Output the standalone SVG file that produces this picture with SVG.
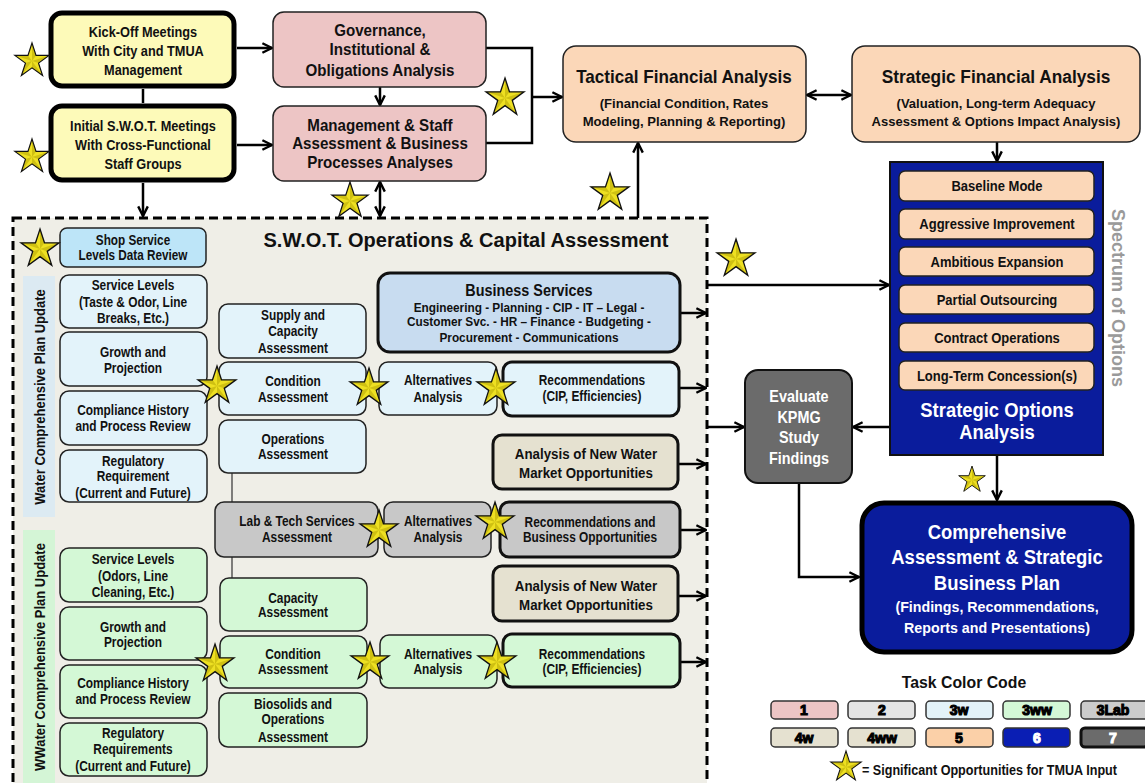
<svg xmlns="http://www.w3.org/2000/svg" xmlns:xlink="http://www.w3.org/1999/xlink" width="1145" height="783" viewBox="0 0 1145 783">
<style>
text{font-family:'Liberation Sans',Arial,sans-serif;font-weight:bold;text-anchor:middle;dominant-baseline:central;fill:#111}
.w{fill:#fff}
.s13{font-size:13px}.s14{font-size:14px}.s15{font-size:15px}.s16{font-size:16px}.s17{font-size:17px}.s18{font-size:18px}.s20{font-size:20px}
.thick{stroke:#000;stroke-width:5}
.thin{stroke:#222;stroke-width:1.5}
.med{stroke:#111;stroke-width:3}
.yel{fill:#FDFAB9}.pink{fill:#EDC5C5}.peach{fill:#FBD7B8}.lb{fill:#E3F3FA}.shop{fill:#BDE5F8}.bs{fill:#C8DCF0}.gr{fill:#D4F8D6}.lab{fill:#C8C8C8}.bei{fill:#E5E1D0}.blue{fill:#0A1C9C}.dg{fill:#6B6B6B}
.con{fill:none;stroke:#000;stroke-width:2.5}
.leg{font-size:14px;fill:#000;stroke:#000;stroke-width:1.1}
.legw{fill:#fff;stroke:#fff}
.sw{stroke:#333;stroke-width:1.5}
</style>
<defs>
<marker id="ah" viewBox="0 0 10 10" refX="9" refY="5" markerWidth="12" markerHeight="12" markerUnits="userSpaceOnUse" orient="auto-start-reverse">
<path d="M1,1 L9,5 L1,9" fill="none" stroke="#000" stroke-width="2"/>
</marker>
<g id="star">
<path d="M0,-20 L4.49,-6.18 L19.02,-6.18 L7.27,2.36 L11.76,16.18 L0,7.64 L-11.76,16.18 L-7.27,2.36 L-19.02,-6.18 L-4.49,-6.18 Z" fill="#EEE022"/>
<path d="M0,0 L0,-20 L4.49,-6.18Z M0,0 L19.02,-6.18 L7.27,2.36Z M0,0 L11.76,16.18 L0,7.64Z M0,0 L-11.76,16.18 L-7.27,2.36Z M0,0 L-19.02,-6.18 L-4.49,-6.18Z" fill="#A89A00" opacity="0.45"/>
<path d="M0,-20 L4.49,-6.18 L19.02,-6.18 L7.27,2.36 L11.76,16.18 L0,7.64 L-11.76,16.18 L-7.27,2.36 L-19.02,-6.18 L-4.49,-6.18 Z" fill="none" stroke="#111" stroke-width="1.3"/>
</g>
</defs>

<!-- S.W.O.T. dashed container -->
<g id="swot">
<rect x="13" y="218" width="694" height="575" fill="#EFEEE7" stroke="#000" stroke-width="3" stroke-dasharray="9,5"/>
<text x="466" y="240" class="s20">S.W.O.T. Operations &amp; Capital Assessment</text>
</g>

<g id="band-water">
<rect x="23" y="276" width="32" height="241" fill="#DCEAF2"/>
<text class="s14" transform="translate(40,397) rotate(-90) scale(0.93,1)">Water Comprehensive Plan Update</text>
</g>
<g id="band-wwater">
<rect x="23" y="530" width="32" height="260" fill="#D4F5D6"/>
<text class="s14" transform="translate(40,657) rotate(-90) scale(0.93,1)">WWater Comprehensive Plan Update</text>
</g>

<!-- connectors -->
<g id="connectors">
<path class="con" d="M237,48 H272" marker-end="url(#ah)"/>
<path class="con" d="M237,145 H272" marker-end="url(#ah)"/>
<path class="con" d="M143,89 V103"/>
<path class="con" d="M143,183 V216" marker-end="url(#ah)"/>
<path class="con" d="M380,87 V105" marker-end="url(#ah)"/>
<path class="con" d="M380,182 V216" marker-start="url(#ah)" marker-end="url(#ah)"/>
<path class="con" d="M486,48 H532 V143 H486"/>
<path class="con" d="M532,97 H562" marker-end="url(#ah)"/>
<path class="con" d="M807,95 H851" marker-start="url(#ah)" marker-end="url(#ah)"/>
<path class="con" d="M638,218 V143" marker-end="url(#ah)"/>
<path class="con" d="M997,142 V161" marker-end="url(#ah)"/>
<path class="con" d="M707,285 H889" marker-end="url(#ah)"/>
<path class="con" d="M707,427 H744" marker-end="url(#ah)"/>
<path class="con" d="M890,427 H853" marker-end="url(#ah)"/>
<path class="con" d="M799,483 V577 H859" marker-end="url(#ah)"/>
<path class="con" d="M997,455 V500" marker-end="url(#ah)"/>
<path class="con" d="M680,313 H706" marker-end="url(#ah)"/>
<path class="con" d="M679,388 H706" marker-end="url(#ah)"/>
<path class="con" d="M678,464 H706" marker-end="url(#ah)"/>
<path class="con" d="M680,530 H706" marker-end="url(#ah)"/>
<path class="con" d="M678,596 H706" marker-end="url(#ah)"/>
<path class="con" d="M680,662 H706" marker-end="url(#ah)"/>
<path fill="none" stroke="#333" stroke-width="1.2" d="M232,473 V502 M232,557 V578"/>
</g>

<!-- top nodes -->
<g id="kickoff">
<rect x="51" y="13" width="183" height="73" rx="11" class="yel thick"/>
<g transform="matrix(0.85,0,0,1,21.45,0)">
<text x="143" y="32" class="s15">Kick-Off Meetings</text>
<text x="143" y="51" class="s15">With City and TMUA</text>
<text x="143" y="70" class="s15">Management</text>
</g>
</g>
<g id="initial-swot">
<rect x="51" y="106" width="183" height="74" rx="11" class="yel thick"/>
<g transform="matrix(0.85,0,0,1,21.45,0)">
<text x="143" y="126" class="s15">Initial S.W.O.T. Meetings</text>
<text x="143" y="145" class="s15">With Cross-Functional</text>
<text x="143" y="164" class="s15">Staff Groups</text>
</g>
</g>
<g id="governance">
<rect x="273" y="12" width="213" height="75" rx="11" class="pink thin"/>
<g transform="matrix(0.89,0,0,1,41.8,0)">
<text x="380" y="30" class="s17">Governance,</text>
<text x="380" y="49" class="s17">Institutional &amp;</text>
<text x="380" y="70" class="s17">Obligations Analysis</text>
</g>
</g>
<g id="management">
<rect x="273" y="106" width="213" height="75" rx="11" class="pink thin"/>
<g transform="matrix(0.89,0,0,1,41.8,0)">
<text x="380" y="125" class="s17">Management &amp; Staff</text>
<text x="380" y="143" class="s17">Assessment &amp; Business</text>
<text x="380" y="162" class="s17">Processes Analyses</text>
</g>
</g>
<g id="tactical">
<rect x="563" y="46" width="243" height="96" rx="13" class="peach thin"/>
<text x="684" y="77" class="s18" transform="matrix(0.95,0,0,1,34.2,0)">Tactical Financial Analysis</text>
<text x="684" y="103" style="font-size:13.5px" transform="matrix(0.97,0,0,1,20.52,0)">(Financial Condition, Rates</text>
<text x="684" y="121" style="font-size:13.5px" transform="matrix(0.97,0,0,1,20.52,0)">Modeling, Planning &amp; Reporting)</text>
</g>
<g id="strategic-financial">
<rect x="852" y="46" width="288" height="96" rx="13" class="peach thin"/>
<text x="996" y="77" class="s18" transform="matrix(0.96,0,0,1,39.84,0)">Strategic Financial Analysis</text>
<text x="996" y="103" class="s13">(Valuation, Long-term Adequacy</text>
<text x="996" y="121" class="s13">Assessment &amp; Options Impact Analysis)</text>
</g>

<!-- strategic options -->
<g id="strategic-options">
<rect x="890" y="162" width="213" height="293" class="blue" stroke="#111" stroke-width="2"/>
<rect x="899" y="171" width="195" height="30" rx="6" class="peach thin"/>
<rect x="899" y="209" width="195" height="30" rx="6" class="peach thin"/>
<rect x="899" y="247" width="195" height="29" rx="6" class="peach thin"/>
<rect x="899" y="285" width="195" height="29" rx="6" class="peach thin"/>
<rect x="899" y="323" width="195" height="29" rx="6" class="peach thin"/>
<rect x="899" y="361" width="195" height="29" rx="6" class="peach thin"/>
<g transform="matrix(0.93,0,0,1,69.79,0)">
<text x="997" y="186" class="s14">Baseline Mode</text>
<text x="997" y="224" class="s14">Aggressive Improvement</text>
<text x="997" y="262" class="s14">Ambitious Expansion</text>
<text x="997" y="300" class="s14">Partial Outsourcing</text>
<text x="997" y="338" class="s14">Contract Operations</text>
<text x="997" y="376" class="s14">Long-Term Concession(s)</text>
</g>
<g transform="matrix(0.92,0,0,1,79.76,0)">
<text x="997" y="410" class="s20 w">Strategic Options</text>
<text x="997" y="432" class="s20 w">Analysis</text>
</g>
</g>
<g id="spectrum-label">
<text class="s18" style="fill:#9A9A9A" transform="translate(1118,298) rotate(90)">Spectrum of Options</text>
</g>
<g id="evaluate-kpmg">
<rect x="745" y="370" width="107" height="113" rx="13" class="dg" stroke="#111" stroke-width="2"/>
<g transform="matrix(0.9,0,0,1,79.9,0)">
<text x="799" y="396" class="s16 w">Evaluate</text>
<text x="799" y="417" class="s16 w">KPMG</text>
<text x="799" y="437" class="s16 w">Study</text>
<text x="799" y="458" class="s16 w">Findings</text>
</g>
</g>
<g id="comprehensive">
<rect x="862" y="503" width="270" height="149" rx="22" class="blue thick"/>
<g transform="matrix(0.88,0,0,1,119.64,0)">
<text x="997" y="532" style="font-size:21px" class="w">Comprehensive</text>
<text x="997" y="557" style="font-size:21px" class="w">Assessment &amp; Strategic</text>
<text x="997" y="583" style="font-size:21px" class="w">Business Plan</text>
</g>
<g transform="matrix(0.95,0,0,1,49.85,0)">
<text x="997" y="607" class="s15 w">(Findings, Recommendations,</text>
<text x="997" y="628" class="s15 w">Reports and Presentations)</text>
</g>
</g>

<!-- water column -->
<g id="shop-service">
<rect x="60" y="228" width="146" height="39" rx="7" class="shop thin"/>
<g transform="matrix(0.84,0,0,1,21.28,0)">
<text x="133" y="240" class="s14">Shop Service</text>
<text x="133" y="255" class="s14">Levels Data Review</text>
</g>
</g>
<g id="w-service-levels">
<rect x="60" y="275" width="147" height="53" rx="9" class="lb thin"/>
<g transform="matrix(0.85,0,0,1,19.95,0)">
<text x="133" y="285" class="s14">Service Levels</text>
<text x="133" y="302" class="s14">(Taste &amp; Odor, Line</text>
<text x="133" y="318" class="s14">Breaks,  Etc.)</text>
</g>
</g>
<g id="w-growth">
<rect x="60" y="332" width="147" height="54" rx="9" class="lb thin"/>
<g transform="matrix(0.85,0,0,1,19.95,0)">
<text x="133" y="352" class="s14">Growth and</text>
<text x="133" y="368" class="s14">Projection</text>
</g>
</g>
<g id="w-compliance">
<rect x="60" y="391" width="147" height="54" rx="9" class="lb thin"/>
<g transform="matrix(0.85,0,0,1,19.95,0)">
<text x="133" y="410" class="s14">Compliance History</text>
<text x="133" y="426" class="s14">and Process Review</text>
</g>
</g>
<g id="w-regulatory">
<rect x="60" y="450" width="147" height="52" rx="9" class="lb thin"/>
<g transform="matrix(0.85,0,0,1,19.95,0)">
<text x="133" y="461" class="s14">Regulatory</text>
<text x="133" y="476" class="s14">Requirement</text>
<text x="133" y="493" class="s14">(Current and Future)</text>
</g>
</g>
<g id="w-supply">
<rect x="219" y="304" width="147" height="54" rx="9" class="lb thin"/>
<g transform="matrix(0.85,0,0,1,43.95,0)">
<text x="293" y="315" class="s14">Supply and</text>
<text x="293" y="331" class="s14">Capacity</text>
<text x="293" y="348" class="s14">Assessment</text>
</g>
</g>
<g id="w-condition">
<rect x="219" y="362" width="147" height="53" rx="9" class="lb thin"/>
<g transform="matrix(0.85,0,0,1,43.95,0)">
<text x="293" y="381" class="s14">Condition</text>
<text x="293" y="397" class="s14">Assessment</text>
</g>
</g>
<g id="w-operations">
<rect x="219" y="420" width="147" height="53" rx="9" class="lb thin"/>
<g transform="matrix(0.85,0,0,1,43.95,0)">
<text x="293" y="439" class="s14">Operations</text>
<text x="293" y="454" class="s14">Assessment</text>
</g>
</g>
<g id="w-alternatives">
<rect x="379" y="362" width="118" height="53" rx="9" class="lb thin"/>
<g transform="matrix(0.85,0,0,1,65.7,0)">
<text x="438" y="380" class="s14">Alternatives</text>
<text x="438" y="397" class="s14">Analysis</text>
</g>
</g>
<g id="w-recommendations">
<rect x="503" y="362" width="176" height="54" rx="9" class="lb med"/>
<g transform="matrix(0.85,0,0,1,88.8,0)">
<text x="592" y="380" class="s14">Recommendations</text>
<text x="592" y="396" class="s14">(CIP, Efficiencies)</text>
</g>
</g>
<g id="business-services">
<rect x="378" y="273" width="302" height="79" rx="12" class="bs med"/>
<text x="529" y="290" class="s16" transform="matrix(0.9,0,0,1,52.9,0)">Business Services</text>
<g transform="matrix(0.91,0,0,1,47.61,0)">
<text x="529" y="308" class="s13">Engineering - Planning - CIP - IT – Legal -</text>
<text x="529" y="322" class="s13">Customer Svc. - HR – Finance - Budgeting -</text>
<text x="529" y="338" class="s13">Procurement  -  Communications</text>
</g>
</g>
<g id="new-water-1">
<rect x="493" y="435" width="185" height="54" rx="9" class="bei med"/>
<g transform="matrix(0.86,0,0,1,82.04,0)">
<text x="586" y="454" style="font-size:15.5px">Analysis of New Water</text>
<text x="586" y="473" style="font-size:15.5px">Market Opportunities</text>
</g>
</g>

<!-- lab -->
<g id="lab-assessment">
<rect x="215" y="502" width="163" height="55" rx="9" class="lab thin"/>
<g transform="matrix(0.85,0,0,1,44.55,0)">
<text x="297" y="521" class="s14">Lab &amp; Tech Services</text>
<text x="297" y="537" class="s14">Assessment</text>
</g>
</g>
<g id="lab-alternatives">
<rect x="384" y="502" width="107" height="55" rx="9" class="lab thin"/>
<g transform="matrix(0.85,0,0,1,65.7,0)">
<text x="438" y="521" class="s14">Alternatives</text>
<text x="438" y="537" class="s14">Analysis</text>
</g>
</g>
<g id="lab-recommendations">
<rect x="500" y="502" width="180" height="55" rx="9" class="lab med"/>
<g transform="matrix(0.85,0,0,1,88.5,0)">
<text x="590" y="522" class="s14">Recommendations and</text>
<text x="590" y="537" class="s14">Business Opportunities</text>
</g>
</g>
<g id="new-water-2">
<rect x="493" y="566" width="185" height="55" rx="9" class="bei med"/>
<g transform="matrix(0.86,0,0,1,82.04,0)">
<text x="586" y="586" style="font-size:15.5px">Analysis of New Water</text>
<text x="586" y="605" style="font-size:15.5px">Market Opportunities</text>
</g>
</g>

<!-- wastewater column -->
<g id="ww-service-levels">
<rect x="60" y="548" width="147" height="54" rx="9" class="gr thin"/>
<g transform="matrix(0.85,0,0,1,19.95,0)">
<text x="133" y="559" class="s14">Service Levels</text>
<text x="133" y="576" class="s14">(Odors, Line</text>
<text x="133" y="592" class="s14">Cleaning,  Etc.)</text>
</g>
</g>
<g id="ww-growth">
<rect x="60" y="607" width="147" height="53" rx="9" class="gr thin"/>
<g transform="matrix(0.85,0,0,1,19.95,0)">
<text x="133" y="627" class="s14">Growth and</text>
<text x="133" y="642" class="s14">Projection</text>
</g>
</g>
<g id="ww-compliance">
<rect x="60" y="665" width="147" height="53" rx="9" class="gr thin"/>
<g transform="matrix(0.85,0,0,1,19.95,0)">
<text x="133" y="683" class="s14">Compliance History</text>
<text x="133" y="699" class="s14">and Process Review</text>
</g>
</g>
<g id="ww-regulatory">
<rect x="60" y="723" width="147" height="53" rx="9" class="gr thin"/>
<g transform="matrix(0.85,0,0,1,19.95,0)">
<text x="133" y="733" class="s14">Regulatory</text>
<text x="133" y="749" class="s14">Requirements</text>
<text x="133" y="766" class="s14">(Current and Future)</text>
</g>
</g>
<g id="ww-capacity">
<rect x="220" y="578" width="147" height="53" rx="9" class="gr thin"/>
<g transform="matrix(0.85,0,0,1,43.95,0)">
<text x="293" y="598" class="s14">Capacity</text>
<text x="293" y="612" class="s14">Assessment</text>
</g>
</g>
<g id="ww-condition">
<rect x="220" y="636" width="147" height="52" rx="9" class="gr thin"/>
<g transform="matrix(0.85,0,0,1,43.95,0)">
<text x="293" y="654" class="s14">Condition</text>
<text x="293" y="669" class="s14">Assessment</text>
</g>
</g>
<g id="ww-biosolids">
<rect x="219" y="693" width="148" height="54" rx="9" class="gr thin"/>
<g transform="matrix(0.85,0,0,1,43.95,0)">
<text x="293" y="704" class="s14">Biosolids and</text>
<text x="293" y="719" class="s14">Operations</text>
<text x="293" y="737" class="s14">Assessment</text>
</g>
</g>
<g id="ww-alternatives">
<rect x="380" y="635" width="117" height="53" rx="9" class="gr thin"/>
<g transform="matrix(0.85,0,0,1,65.7,0)">
<text x="438" y="654" class="s14">Alternatives</text>
<text x="438" y="669" class="s14">Analysis</text>
</g>
</g>
<g id="ww-recommendations">
<rect x="503" y="634" width="177" height="53" rx="9" class="gr med"/>
<g transform="matrix(0.85,0,0,1,88.8,0)">
<text x="592" y="654" class="s14">Recommendations</text>
<text x="592" y="669" class="s14">(CIP, Efficiencies)</text>
</g>
</g>

<!-- legend -->
<g id="legend">
<text x="964" y="682" class="s17" transform="matrix(0.93,0,0,1,67.48,0)">Task Color Code</text>
<rect x="771" y="701" width="67" height="18" rx="4" fill="#EDC5C5" class="sw"/>
<rect x="848" y="701" width="67" height="18" rx="4" fill="#E4E4E4" class="sw"/>
<rect x="926" y="701" width="67" height="18" rx="4" fill="#E3F2F8" class="sw"/>
<rect x="1003" y="701" width="67" height="18" rx="4" fill="#D4F8D6" class="sw"/>
<rect x="1081" y="701" width="67" height="18" rx="4" fill="#CCCCCC" class="sw"/>
<rect x="771" y="728" width="67" height="19" rx="4" fill="#E5E1D0" class="sw"/>
<rect x="848" y="728" width="67" height="19" rx="4" fill="#E5E1D0" class="sw"/>
<rect x="926" y="728" width="67" height="19" rx="4" fill="#FBD0A8" class="sw"/>
<rect x="1003" y="728" width="67" height="19" rx="4" fill="#0A1EB4" class="sw"/>
<rect x="1081" y="728" width="67" height="19" rx="4" fill="#6B6B6B" stroke="#111" stroke-width="3"/>
<text x="804" y="710" class="leg">1</text>
<text x="882" y="710" class="leg">2</text>
<text x="959" y="710" class="leg">3w</text>
<text x="1037" y="710" class="leg">3ww</text>
<text x="1113" y="710" class="leg">3Lab</text>
<text x="804" y="738" class="leg">4w</text>
<text x="882" y="738" class="leg">4ww</text>
<text x="959" y="738" class="leg">5</text>
<text x="1037" y="738" class="leg legw">6</text>
<text x="1113" y="738" class="leg legw">7</text>
<use xlink:href="#star" href="#star" transform="translate(846,767) scale(0.8)"/>
<text x="862" y="770" class="s14" style="text-anchor:start" transform="matrix(0.9,0,0,1,86.2,0)">= Significant Opportunities for TMUA Input</text>
</g>

<!-- stars -->
<g id="stars">
<use href="#star" xlink:href="#star" transform="translate(32,61) scale(0.9)"/>
<use href="#star" xlink:href="#star" transform="translate(32,157) scale(0.9)"/>
<use href="#star" xlink:href="#star" transform="translate(505,98)"/>
<use href="#star" xlink:href="#star" transform="translate(350,201) scale(0.95)"/>
<use href="#star" xlink:href="#star" transform="translate(610,193)"/>
<use href="#star" xlink:href="#star" transform="translate(736,259)"/>
<use href="#star" xlink:href="#star" transform="translate(40,249)"/>
<use href="#star" xlink:href="#star" transform="translate(217,386)"/>
<use href="#star" xlink:href="#star" transform="translate(369,388)"/>
<use href="#star" xlink:href="#star" transform="translate(496,388)"/>
<use href="#star" xlink:href="#star" transform="translate(379,530)"/>
<use href="#star" xlink:href="#star" transform="translate(495,522)"/>
<use href="#star" xlink:href="#star" transform="translate(215,664)"/>
<use href="#star" xlink:href="#star" transform="translate(370,662)"/>
<use href="#star" xlink:href="#star" transform="translate(497,662)"/>
<use href="#star" xlink:href="#star" transform="translate(972,480) scale(0.7)"/>
</g>
</svg>
